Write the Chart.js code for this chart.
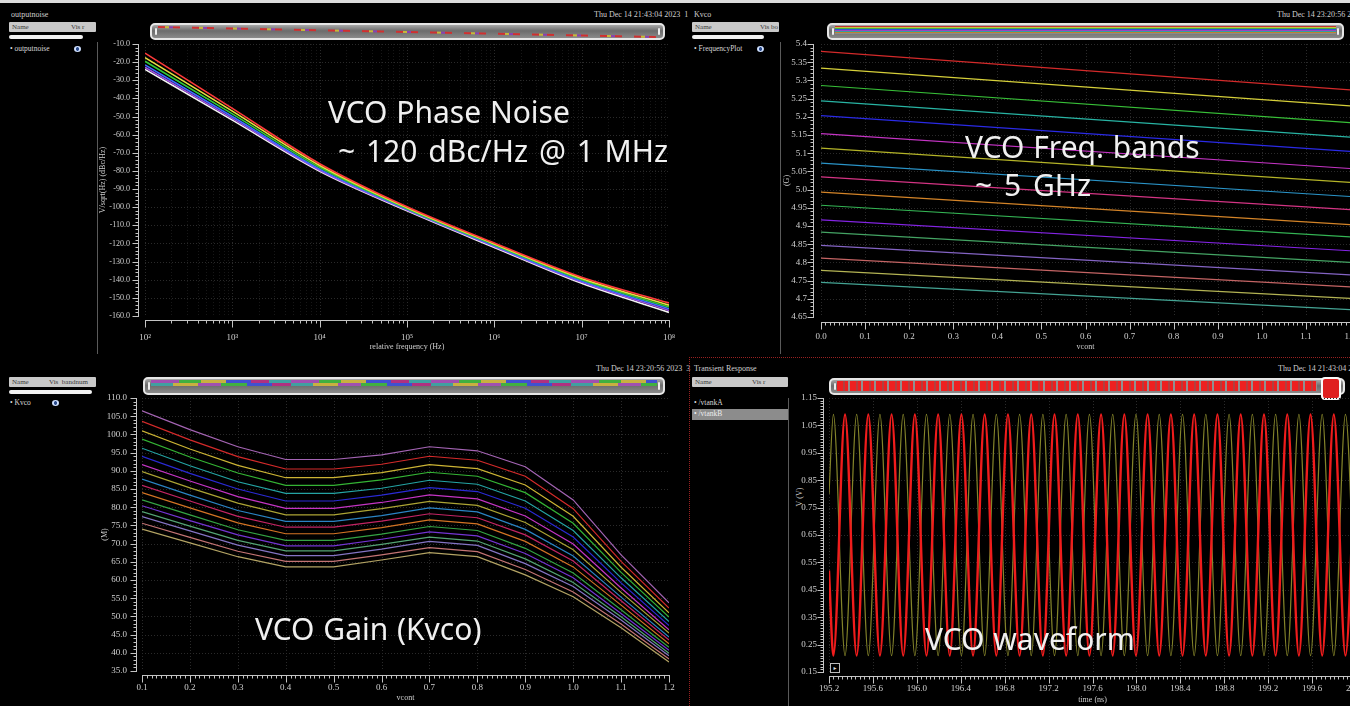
<!DOCTYPE html>
<html>
<head>
<meta charset="utf-8">
<script src="https://cdn.jsdelivr.net/npm/chart.js@4.4.1/dist/chart.umd.min.js"></script>
<style>
html,body{margin:0;padding:0;background:#000;}
body{width:1350px;height:706px;overflow:hidden;position:relative;font-family:'Liberation Serif','DejaVu Serif',serif;color:#cfcfcf;}
.a{position:absolute;white-space:nowrap;}
.ttl{font-size:8px;line-height:10px;color:#cfcfcf;}
.hdr{position:absolute;height:10px;background:#c9c9c9;border-radius:1px;}
.hdr span{position:absolute;top:0;font-size:7px;line-height:10px;color:#3a3a3a;}
.wb{position:absolute;height:4px;background:#f2f2f2;border-radius:2px;}
.row{position:absolute;font-size:7.5px;line-height:10px;color:#d8d8d8;white-space:nowrap;}
.eye{position:absolute;width:7px;height:6px;border-radius:50%;background:radial-gradient(circle,#2a4a8a 0 1.5px,#cfe0ff 2px);}
.sep{position:absolute;width:1px;background:#5a5a5a;}
.sb{position:absolute;box-sizing:border-box;border:2px solid #e6e6e6;border-radius:5px;background:linear-gradient(#a8a8a8,#6c6c6c 45%,#8a8a8a);overflow:hidden;}
.cap{position:absolute;top:3px;bottom:3px;width:2px;background:#eee;border-radius:1px;}
.cw{position:absolute;}
.note{position:absolute;font-family:'Noto Sans',sans-serif;font-size:30px;line-height:30px;color:#f0f0f0;white-space:nowrap;word-spacing:1px;}
</style>
</head>
<body>
<div class="a" style="left:0;top:0;width:1350px;height:3px;background:#dcdcdc"></div>

<!-- Top-left panel chrome -->
<div class="a ttl" style="left:11px;top:10px">outputnoise</div>
<div class="a ttl" style="left:594px;top:10px">Thu Dec 14 21:43:04 2023&nbsp;&nbsp;1</div>
<div class="hdr" style="left:9px;top:22px;width:87px"><span style="left:3px">Name</span><span style="left:62px">Vis r</span></div>
<div class="wb" style="left:9px;top:35px;width:74px"></div>
<div class="row" style="left:10px;top:44px">&#8226; outputnoise</div>
<div class="eye" style="left:74px;top:46px"></div>
<div class="sep" style="left:97px;top:42px;height:312px"></div>
<div class="sb" style="left:150px;top:23px;width:515px;height:17px">
  <div style="position:absolute;left:6px;top:1px;width:498px;height:2px;transform-origin:0 0;transform:rotate(1.15deg);background:repeating-linear-gradient(90deg,#d03030 0 7px,#c8b838 7px 11px,#8a40b0 11px 15px,#d03030 15px 22px,transparent 22px 34px)"></div>
  <div class="cap" style="left:3px"></div><div class="cap" style="right:3px"></div>
</div>

<!-- Top-right panel chrome -->
<div class="a ttl" style="left:694px;top:10px">Kvco</div>
<div class="a ttl" style="left:1277px;top:10px">Thu Dec 14 23:20:56 2023</div>
<div class="hdr" style="left:692px;top:22px;width:87px"><span style="left:3px">Name</span><span style="left:68px">Vis bo</span></div>
<div class="wb" style="left:692px;top:35px;width:72px"></div>
<div class="row" style="left:694px;top:44px">&#8226; FrequencyPlot</div>
<div class="eye" style="left:757px;top:46px"></div>
<div class="sep" style="left:780px;top:42px;height:312px"></div>
<div class="sb" style="left:827px;top:23px;width:517px;height:17px">
  <div style="position:absolute;left:6px;right:6px;top:1px;height:8px;background:linear-gradient(#c03030 0 1px,#c8c040 1px 2px,#40b040 2px 3px,#3050e0 3px 4px,#a040c0 4px 5px,#30a0a0 5px 6px,#c08030 6px 7px,#8a8a8a 7px 8px)"></div>
  <div class="cap" style="left:3px"></div><div class="cap" style="right:3px"></div>
</div>

<!-- Bottom-left panel chrome -->
<div class="a ttl" style="left:596px;top:364px">Thu Dec 14 23:20:56 2023&nbsp;&nbsp;3</div>
<div class="hdr" style="left:9px;top:377px;width:87px"><span style="left:3px">Name</span><span style="left:40px">Vis&nbsp;&nbsp;bandnum</span></div>
<div class="wb" style="left:9px;top:390px;width:83px"></div>
<div class="row" style="left:10px;top:398px">&#8226; Kvco</div>
<div class="eye" style="left:52px;top:400px"></div>
<div class="sb" style="left:143px;top:377px;width:522px;height:18px">
  <div style="position:absolute;left:6px;right:6px;top:1px;height:3px;background:repeating-linear-gradient(90deg,#a050b0 0 28px,#40b040 28px 50px,#c8b040 50px 75px,#4050d0 75px 100px,#b03080 100px 118px,#40a0a0 118px 140px)"></div>
  <div style="position:absolute;left:6px;right:6px;top:4px;height:3px;background:repeating-linear-gradient(90deg,#40a0a0 0 22px,#c8b040 22px 47px,#a050b0 47px 70px,#40b040 70px 96px,#4050d0 96px 121px,#b03080 121px 140px)"></div>
  <div class="cap" style="left:3px"></div><div class="cap" style="right:3px"></div>
</div>

<!-- Bottom-right panel chrome -->
<div class="a" style="left:689px;top:357px;width:661px;height:349px;border-top:1px dotted #9a2020;border-left:1px dotted #9a2020;box-sizing:border-box"></div>
<div class="a ttl" style="left:694px;top:364px">Transient Response</div>
<div class="a ttl" style="left:1278px;top:364px">Thu Dec 14 21:43:04 2023</div>
<div class="hdr" style="left:692px;top:377px;width:96px"><span style="left:3px">Name</span><span style="left:60px">Vis r</span></div>
<div class="row" style="left:694px;top:398px">&#8226; /vtankA</div>
<div class="a" style="left:692px;top:409px;width:96px;height:11px;background:#8c8c8c"></div>
<div class="row" style="left:694px;top:409px;color:#eee">&#8226; /vtankB</div>
<div class="sep" style="left:788px;top:398px;height:308px"></div>
<div class="sb" style="left:829px;top:378px;width:516px;height:17px;overflow:visible">
  <div style="position:absolute;left:6px;right:26px;top:1px;height:10px;background:repeating-linear-gradient(90deg,#ee2020 0 6px,#b04040 6px 8px,#ee2020 8px 11px,#909090 11px 13px)"></div>
  <div class="cap" style="left:3px"></div>
  <div style="position:absolute;left:490px;top:-3px;width:16px;height:19px;border:2px solid #fafafa;border-radius:4px;background:#e02020"></div>
</div>
<div class="a" style="left:830px;top:663px;width:8px;height:8px;border:1px solid #bbb;font-size:6px;line-height:8px;text-align:center;color:#ddd">&#9656;</div>
<div class="a ttl" style="left:780px;top:492px;width:40px;text-align:center;transform:rotate(-90deg)">V (V)</div>

<!-- Chart canvases -->
<div class="cw" style="left:98px;top:40px;width:592px;height:312px"><canvas id="cTL"></canvas></div>
<div class="cw" style="left:780px;top:40px;width:600px;height:312px"><canvas id="cTR"></canvas></div>
<div class="cw" style="left:98px;top:394px;width:592px;height:309px"><canvas id="cBL"></canvas></div>
<div class="cw" style="left:795px;top:394px;width:585px;height:311px"><canvas id="cBR"></canvas></div>

<!-- Annotations -->
<div class="note" style="left:328px;top:97px">VCO Phase Noise</div>
<div class="note" style="left:338px;top:136px;word-spacing:3px">~ 120 dBc/Hz @ 1 MHz</div>
<div class="note" style="left:965px;top:132px">VCO Freq. bands</div>
<div class="note" style="left:975px;top:170px;word-spacing:4px">~ 5 GHz</div>
<div class="note" style="left:255px;top:614px">VCO Gain (Kvco)</div>
<div class="note" style="left:925px;top:624px">VCO waveform</div>

<script>
// ---------------- DATA ----------------
// Top-left: phase noise (dBc/Hz) vs offset frequency (Hz)
const pnFreq   = [1e2, 1e3, 1e4, 1e5, 1e6, 1e7, 1e8];
const pnRed    = [-15.0, -45.5, -76.0,  -99.8, -119.8, -138.6, -152.8];
const pnYellow = [-17.5, -47.0, -77.0, -100.3, -120.3, -139.3, -154.0];
const pnGreen  = [-19.5, -48.5, -78.0, -100.8, -120.8, -140.0, -155.0];
const pnBlue   = [-21.5, -50.0, -79.0, -101.2, -121.3, -140.7, -156.0];
const pnPurple = [-22.8, -51.0, -79.6, -101.6, -121.7, -141.3, -157.0];
const pnWhite  = [-24.0, -52.0, -80.2, -102.0, -122.2, -142.0, -158.0];
const pnXTicks = [1e2, 1e3, 1e4, 1e5, 1e6, 1e7, 1e8];
const pnXLabels = ['10\u00B2','10\u00B3','10\u2074','10\u2075','10\u2076','10\u2077','10\u2078'];
const pnYTicks = [-10,-20,-30,-40,-50,-60,-70,-80,-90,-100,-110,-120,-130,-140,-150,-160];

// Top-right: frequency bands (GHz) vs vcont, value at vcont=0.0 and 1.2
const fbX     = [0.0, 1.2];
const fbStart = [5.380,5.334,5.286,5.244,5.203,5.154,5.114,5.073,5.035,4.993,4.957,4.917,4.883,4.847,4.812,4.778,4.745];
const fbEnd   = [5.274,5.230,5.184,5.144,5.105,5.058,5.020,4.981,4.945,4.904,4.870,4.832,4.800,4.766,4.733,4.701,4.670];
const fbYLabels = ['5.4','5.35','5.3','5.25','5.2','5.15','5.1','5.05','5.0','4.95','4.9','4.85','4.8','4.75','4.7','4.65'];
const fbXLabels = ['0.0','0.1','0.2','0.3','0.4','0.5','0.6','0.7','0.8','0.9','1.0','1.1','1.2'];

// Bottom-left: Kvco (MHz/V) vs vcont, 17 bands
const kvX = [0.1,0.2,0.3,0.4,0.5,0.6,0.7,0.8,0.9,1.0,1.1,1.2];
const kv00 = [106.5,101.3,96.6,93.1,93.1,94.4,96.6,95.5,91.1,82.0,66.9,53.7];
const kv01 = [103.6,98.5,93.9,90.5,90.5,91.8,94.0,92.9,88.5,79.6,65.1,52.3];
const kv02 = [101.0,96.0,91.5,88.1,88.1,89.5,91.7,90.6,86.1,77.5,63.5,51.0];
const kv03 = [98.7,93.8,89.4,86.0,86.0,87.5,89.6,88.5,84.0,75.6,62.1,49.8];
const kv04 = [96.2,91.4,87.0,83.8,83.8,85.2,87.4,86.3,81.7,73.6,60.6,48.6];
const kv05 = [94.0,89.3,85.0,81.7,81.7,83.3,85.4,84.3,79.7,71.8,59.2,47.5];
const kv06 = [91.7,87.2,82.9,79.7,79.7,81.3,83.4,82.3,77.6,69.9,57.8,46.3];
const kv07 = [89.8,85.3,81.1,77.9,77.9,79.6,81.6,80.5,75.8,68.3,56.6,45.4];
const kv08 = [87.7,83.3,79.1,76.1,76.1,77.7,79.8,78.7,73.9,66.6,55.3,44.3];
const kv09 = [86.0,81.7,77.5,74.5,74.5,76.2,78.2,77.1,72.4,65.2,54.3,43.5];
const kv10 = [84.0,79.8,75.7,72.7,72.7,74.4,76.5,75.4,70.6,63.6,53.1,42.5];
const kv11 = [82.0,77.9,73.8,70.9,70.9,72.6,74.7,73.6,68.7,61.9,51.8,41.5];
const kv12 = [80.4,76.3,72.4,69.4,69.4,71.2,73.2,72.1,67.3,60.6,50.8,40.7];
const kv13 = [78.8,74.8,70.9,68.0,68.0,69.8,71.8,70.7,65.8,59.3,49.9,39.9];
const kv14 = [77.4,73.5,69.6,66.7,66.7,68.5,70.6,69.5,64.5,58.2,49.0,39.2];
const kv15 = [75.6,71.7,67.9,65.1,65.1,66.9,68.9,67.8,62.9,56.7,47.9,38.3];
const kv16 = [74.0,70.2,66.4,63.6,63.6,65.5,67.5,66.4,61.4,55.4,46.9,37.5];
const kvBands = [kv00,kv01,kv02,kv03,kv04,kv05,kv06,kv07,kv08,kv09,kv10,kv11,kv12,kv13,kv14,kv15,kv16];
const kvYTicks = [110,105,100,95,90,85,80,75,70,65,60,55,50,45,40,35];
const kvXLabels = ['0.1','0.2','0.3','0.4','0.5','0.6','0.7','0.8','0.9','1.0','1.1','1.2'];

// Bottom-right: transient waveform, turning points (ns, V)
const tankT = [195.200,
  195.240,195.346,195.452,195.558,195.664,195.770,195.876,195.982,196.088,196.194,196.300,196.406,
  196.512,196.618,196.724,196.830,196.936,197.042,197.148,197.254,197.360,197.466,197.572,197.678,
  197.784,197.890,197.996,198.102,198.208,198.314,198.420,198.526,198.632,198.738,198.844,198.950,
  199.056,199.162,199.268,199.374,199.480,199.586,199.692,199.798,199.904,
  200.000];
const vtankB = [0.52,
  0.21,1.09,0.21,1.09,0.21,1.09,0.21,1.09,0.21,1.09,0.21,1.09,
  0.21,1.09,0.21,1.09,0.21,1.09,0.21,1.09,0.21,1.09,0.21,1.09,
  0.21,1.09,0.21,1.09,0.21,1.09,0.21,1.09,0.21,1.09,0.21,1.09,
  0.21,1.09,0.21,1.09,0.21,1.09,0.21,1.09,0.21,
  1.07];
const vtankA = [0.80,
  1.09,0.21,1.09,0.21,1.09,0.21,1.09,0.21,1.09,0.21,1.09,0.21,
  1.09,0.21,1.09,0.21,1.09,0.21,1.09,0.21,1.09,0.21,1.09,0.21,
  1.09,0.21,1.09,0.21,1.09,0.21,1.09,0.21,1.09,0.21,1.09,0.21,
  1.09,0.21,1.09,0.21,1.09,0.21,1.09,0.21,1.09,
  0.23];
const trYLabels = ['1.15','1.05','0.95','0.85','0.75','0.65','0.55','0.45','0.35','0.25','0.15'];
const trXLabels = ['195.2','195.6','196.0','196.4','196.8','197.2','197.6','198.0','198.4','198.8','199.2','199.6','200.0'];

// ---------------- STYLES ----------------
const pnColors = ['#ff3a3a','#e6e040','#30c838','#3a6cff','#9a50e0','#f4f4f4'];
const fbColors = ['#d42a2a','#d6d03a','#38c038','#28b4a4','#2a2ae6','#c434c4','#b4b428','#2a94c8','#d43484','#d48428','#34b454','#8424e4','#44a464','#8464c4','#c46464','#b4b454','#44a494'];
const kvColors = ['#a464b4','#d42a2a','#ccb434','#34b434','#24a4a4','#2a2ad4','#c434c4','#aca434','#2a84c4','#c42464','#d47424','#34a444','#7434d4','#54a474','#8474c4','#c47474','#b4a464'];

const SERIF = "'Liberation Serif','DejaVu Serif',serif";
Chart.defaults.font.family = SERIF;
Chart.defaults.font.size = 9;
Chart.defaults.color = '#cfcfcf';
Chart.defaults.animation = false;

function steps(a, b, s) { const n = Math.round((b - a) / s); const r = []; for (let i = 0; i <= n; i++) r.push(+(a + i * s).toFixed(6)); return r; }
function logMinors(d0, d1) { const r = []; for (let d = d0; d < d1; d++) for (let m = 2; m <= 9; m++) r.push(m * Math.pow(10, d)); return r; }

const deco = {
  id: 'deco',
  beforeDatasetsDraw(chart, _a, o) {
    const {ctx, chartArea: a, scales: {x, y}} = chart;
    ctx.save();
    ctx.beginPath(); ctx.rect(a.left, a.top, a.right - a.left, a.bottom - a.top); ctx.clip();
    ctx.lineWidth = 1; ctx.setLineDash([1, 2]);
    ctx.strokeStyle = '#171717';
    ctx.beginPath();
    for (const v of (o.xGridMinor || [])) { const p = Math.round(x.getPixelForValue(v)) + 0.5; ctx.moveTo(p, a.top); ctx.lineTo(p, a.bottom); }
    ctx.stroke();
    ctx.strokeStyle = '#2a2a2a';
    ctx.beginPath();
    for (const t of x.ticks) { const p = Math.round(x.getPixelForValue(t.value)) + 0.5; ctx.moveTo(p, a.top); ctx.lineTo(p, a.bottom); }
    for (const t of y.ticks) { const p = Math.round(y.getPixelForValue(t.value)) + 0.5; ctx.moveTo(a.left, p); ctx.lineTo(a.right, p); }
    ctx.stroke();
    ctx.restore();
  },
  afterDraw(chart, _a, o) {
    const {ctx, chartArea: a, scales: {x, y}} = chart;
    ctx.save();
    ctx.strokeStyle = '#c4c4c4'; ctx.lineWidth = 1;
    const ax = Math.round(a.left - o.yOff) + 0.5;
    const ay = Math.round(a.bottom + o.xOff) + 0.5;
    ctx.beginPath();
    ctx.moveTo(ax, Math.round(a.top)); ctx.lineTo(ax, Math.round(a.bottom) + 1);
    ctx.moveTo(Math.round(a.left), ay); ctx.lineTo(Math.round(a.right) + 1, ay);
    for (const v of o.yMinor) { const p = Math.round(y.getPixelForValue(v)) + 0.5; if (p < a.top - 1 || p > a.bottom + 1) continue; ctx.moveTo(ax, p); ctx.lineTo(ax - 3, p); }
    for (const t of y.ticks) { const p = Math.round(y.getPixelForValue(t.value)) + 0.5; ctx.moveTo(ax, p); ctx.lineTo(ax - 6, p); }
    for (const v of o.xMinor) { const p = Math.round(x.getPixelForValue(v)) + 0.5; if (p < a.left - 1 || p > a.right + 1) continue; ctx.moveTo(p, ay); ctx.lineTo(p, ay + 3); }
    for (const t of x.ticks) { const p = Math.round(x.getPixelForValue(t.value)) + 0.5; ctx.moveTo(p, ay); ctx.lineTo(p, ay + 7); }
    ctx.stroke();
    ctx.restore();
  }
};

function noPad(s) { s.paddingTop = 0; s.paddingBottom = 0; s.paddingLeft = 0; s.paddingRight = 0; }
function axisX(opts) {
  return Object.assign({
    grid: {display: false, drawTicks: false}, border: {display: false},
    afterFit: s => { s.height = opts.h; noPad(s); },
    afterBuildTicks: s => { s.ticks = opts.ticks.map(v => ({value: v})); },
    ticks: {autoSkip: false, maxRotation: 0, padding: opts.pad, font: {size: opts.fs || 9}, color: '#d0d0d0',
            callback: (v, i) => opts.labels[i]},
    title: {display: true, text: opts.title, color: '#cfcfcf', font: {size: 8}, padding: 0}
  }, opts.extra || {});
}
function axisY(opts) {
  return Object.assign({
    grid: {display: false, drawTicks: false}, border: {display: false},
    afterFit: s => { s.width = opts.w; noPad(s); },
    afterBuildTicks: s => { s.ticks = opts.ticks.map(v => ({value: v})); },
    ticks: {autoSkip: false, padding: opts.pad, font: {size: opts.fs || 9}, color: '#d0d0d0',
            callback: (v, i) => opts.labels[i]},
    title: {display: !!opts.title, text: opts.title, color: '#cfcfcf', font: {size: 8}, padding: {top: opts.tpad || 0, bottom: 0}}
  }, opts.extra || {});
}
function base(pad, scales, decoOpts) {
  return {
    responsive: true, maintainAspectRatio: false, animation: false,
    layout: {padding: pad},
    plugins: {legend: {display: false}, tooltip: {enabled: false}, deco: decoOpts},
    elements: {point: {radius: 0}},
    scales
  };
}

// ---- Top-left: phase noise
const pnSeries = [pnRed, pnYellow, pnGreen, pnBlue, pnPurple, pnWhite];
new Chart(document.getElementById('cTL'), {
  type: 'line',
  data: {datasets: pnSeries.map((d, i) => ({
    data: pnFreq.map((f, j) => ({x: f, y: d[j]})),
    borderColor: pnColors[i], borderWidth: 1.6, cubicInterpolationMode: 'monotone', order: i
  }))},
  options: base({top: 4, right: 21, left: 0, bottom: 0}, {
    x: axisX({h: 36, ticks: pnXTicks, labels: pnXLabels, pad: 16, title: 'relative frequency (Hz)', extra: {type: 'logarithmic', min: 1e2, max: 1e8}}),
    y: axisY({w: 47, ticks: pnYTicks, labels: pnYTicks.map(v => v.toFixed(1)), pad: 15, fs: 8, title: 'V/sqrt(Hz) (dBc/Hz)', extra: {type: 'linear', min: -160, max: -10}})
  }, {yOff: 7, xOff: 4, yMinor: steps(-160, -10, 2), xMinor: logMinors(2, 8), xGridMinor: logMinors(2, 8)}),
  plugins: [deco]
});

// ---- Top-right: frequency bands
new Chart(document.getElementById('cTR'), {
  type: 'line',
  data: {datasets: fbStart.map((s, i) => ({
    data: fbX.map((x, j) => ({x, y: j === 0 ? s : fbEnd[i]})),
    borderColor: fbColors[i], borderWidth: 1.2
  }))},
  options: base({top: 4, right: 30, left: 0, bottom: 0}, {
    x: axisX({h: 35, ticks: fbXLabels.map(Number), labels: fbXLabels, pad: 14, title: 'vcont', extra: {type: 'linear', min: 0, max: 1.2}}),
    y: axisY({w: 41, ticks: fbYLabels.map(Number), labels: fbYLabels, pad: 14, title: '(G)', tpad: 2, extra: {type: 'linear', min: 4.65, max: 5.4}})
  }, {yOff: 8, xOff: 5, yMinor: steps(4.65, 5.4, 0.01), xMinor: steps(0, 1.2, 0.01)}),
  plugins: [deco]
});

// ---- Bottom-left: Kvco
new Chart(document.getElementById('cBL'), {
  type: 'line',
  data: {datasets: kvBands.map((d, i) => ({
    data: kvX.map((x, j) => ({x, y: d[j]})),
    borderColor: kvColors[i], borderWidth: 1.2
  }))},
  options: base({top: 4, right: 21, left: 0, bottom: 0}, {
    x: axisX({h: 32, ticks: kvXLabels.map(Number), labels: kvXLabels, pad: 11, title: 'vcont', extra: {type: 'linear', min: 0.1, max: 1.2}}),
    y: axisY({w: 44, ticks: kvYTicks, labels: kvYTicks.map(v => v.toFixed(1)), pad: 15, title: '(M)', tpad: 2, extra: {type: 'linear', min: 35, max: 110}})
  }, {yOff: 6, xOff: 4, yMinor: steps(35, 110, 1), xMinor: steps(0.1, 1.2, 0.01)}),
  plugins: [deco]
});

// ---- Bottom-right: transient
new Chart(document.getElementById('cBR'), {
  type: 'line',
  data: {datasets: [
    {data: tankT.map((t, j) => ({x: t, y: vtankB[j]})), borderColor: '#f01c1c', borderWidth: 2.4, cubicInterpolationMode: 'monotone', order: 0},
    {data: tankT.map((t, j) => ({x: t, y: vtankA[j]})), borderColor: '#84842a', borderWidth: 1.2, cubicInterpolationMode: 'monotone', order: 1}
  ]},
  options: base({top: 4, right: 24, left: 0, bottom: 0}, {
    x: axisX({h: 33, ticks: trXLabels.map(Number), labels: trXLabels, pad: 11, title: 'time (ns)', extra: {type: 'linear', min: 195.2, max: 200.0}}),
    y: axisY({w: 34, ticks: trYLabels.map(Number), labels: trYLabels, pad: 12, title: '', extra: {type: 'linear', min: 0.15, max: 1.15}})
  }, {yOff: 6, xOff: 4, yMinor: steps(0.15, 1.15, 0.01), xMinor: steps(195.2, 200.0, 0.04)}),
  plugins: [deco]
});
</script>
</body>
</html>
